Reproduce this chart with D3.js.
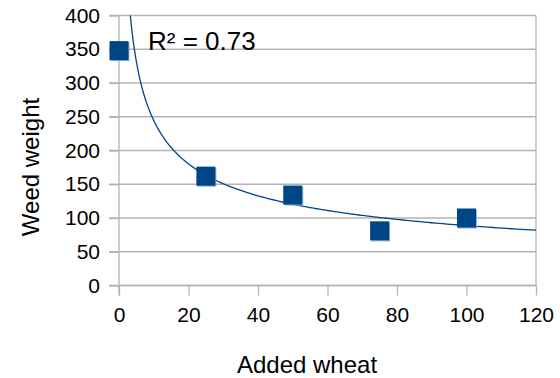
<!DOCTYPE html>
<html>
<head>
<meta charset="utf-8">
<script src="https://cdn.jsdelivr.net/npm/d3@7"></script>
<style>
  body { margin: 0; background: #fff; }
  text { font-family: "Liberation Sans", Arial, sans-serif; fill: #000; }
</style>
</head>
<body>
<svg id="chart" width="560" height="378"></svg>
<script>
// data
var addedWheat = [0, 25, 50, 75, 100];
var weedWeight = [348, 162, 134, 81, 100];
var xTicks = [0, 20, 40, 60, 80, 100, 120];
var yTicks = [0, 50, 100, 150, 200, 250, 300, 350, 400];
var rSquaredLabel = "R² = 0.73";

var svg = d3.select("#chart"),
    cs = {
        pallette: {
            point: "#004586",
            pointEdge: "#8fb0d0",
            line: "#004586",
            grid: "#b3b3b3"
        },
        left: 119, right: 536, top: 15.5, bottom: 285.5,
        tickSize: 10
    };

cs.x = d3.scaleLinear().domain([0, 120]).range([cs.left, cs.right]);
cs.y = d3.scaleLinear().domain([0, 400]).range([cs.bottom, cs.top]);

// horizontal gridlines (extend out as tick marks)
svg.append("g").selectAll("line")
    .data(yTicks)
    .enter().append("line")
    .attr("x1", cs.left - cs.tickSize).attr("x2", cs.right)
    .attr("y1", d => cs.y(d)).attr("y2", d => cs.y(d))
    .attr("stroke", cs.pallette.grid).attr("stroke-width", 1.3);

// right border
svg.append("line")
    .attr("x1", cs.right).attr("x2", cs.right)
    .attr("y1", cs.top).attr("y2", cs.bottom)
    .attr("stroke", cs.pallette.grid).attr("stroke-width", 1.3);

// x axis
var xAxis = d3.axisBottom(cs.x).tickValues(xTicks).tickSize(cs.tickSize).tickPadding(12);
var gx = svg.append("g").attr("transform", "translate(0," + cs.bottom + ")").call(xAxis);
gx.select(".domain").attr("stroke", cs.pallette.grid).attr("stroke-width", 1.3);
gx.selectAll(".tick line").attr("stroke", cs.pallette.grid).attr("stroke-width", 1.3);
gx.selectAll("text").style("font-size", "21px").attr("fill", "#000");

// y axis
var yAxis = d3.axisLeft(cs.y).tickValues(yTicks).tickSize(cs.tickSize).tickPadding(9);
var gy = svg.append("g").attr("transform", "translate(" + cs.left + ",0)").call(yAxis);
gy.select(".domain").attr("stroke", cs.pallette.grid).attr("stroke-width", 1.3);
gy.selectAll(".tick line").attr("stroke", cs.pallette.grid).attr("stroke-width", 1.3);
gy.selectAll("text").style("font-size", "21px").attr("fill", "#000");
gx.selectAll(".domain").attr("d", "M" + cs.left + ",0H" + cs.right);
gy.selectAll(".domain").attr("d", "M0," + (cs.bottom + cs.tickSize) + "V" + cs.top);

// power trendline fitted to the points with x > 0
var pts = addedWheat.map((x, i) => [x, weedWeight[i]]).filter(p => p[0] > 0);
var lx = pts.map(p => Math.log(p[0])), ly = pts.map(p => Math.log(p[1]));
var mx = d3.mean(lx), my = d3.mean(ly);
var sxy = d3.sum(lx, (v, i) => (v - mx) * (ly[i] - my));
var sxx = d3.sum(lx, v => (v - mx) * (v - mx));
var b = sxy / sxx, a = Math.exp(my - b * mx);
var xStart = Math.pow(400 / a, 1 / b);
var curve = d3.range(0, 301).map(i => {
    var x = xStart * Math.pow(120 / xStart, i / 300);
    return [x, a * Math.pow(x, b)];
});
svg.append("path")
    .datum(curve)
    .attr("fill", "none")
    .attr("stroke", cs.pallette.line)
    .attr("stroke-width", 1.3)
    .attr("d", d3.line().x(d => cs.x(d[0])).y(d => cs.y(d[1])));

// square markers
var size = 19;
var marks = svg.append("g").selectAll("g")
    .data(addedWheat.map((x, i) => [x, weedWeight[i]]))
    .enter().append("g");
marks.append("rect")
    .attr("x", d => cs.x(d[0]) - size / 2 + 1)
    .attr("y", d => cs.y(d[1]) - size / 2 + 1)
    .attr("width", size).attr("height", size)
    .attr("fill", cs.pallette.pointEdge);
marks.append("rect")
    .attr("x", d => cs.x(d[0]) - size / 2)
    .attr("y", d => cs.y(d[1]) - size / 2)
    .attr("width", size).attr("height", size)
    .attr("fill", cs.pallette.point);

// R squared
svg.append("text")
    .attr("x", 148).attr("y", 50)
    .style("font-size", "26px")
    .text(rSquaredLabel);

// axis titles
svg.append("text")
    .attr("x", 307).attr("y", 373)
    .attr("text-anchor", "middle")
    .style("font-size", "24px")
    .text("Added wheat");
svg.append("text")
    .attr("transform", "translate(39,167) rotate(-90)")
    .attr("text-anchor", "middle")
    .style("font-size", "24px")
    .text("Weed weight");
</script>
</body>
</html>
